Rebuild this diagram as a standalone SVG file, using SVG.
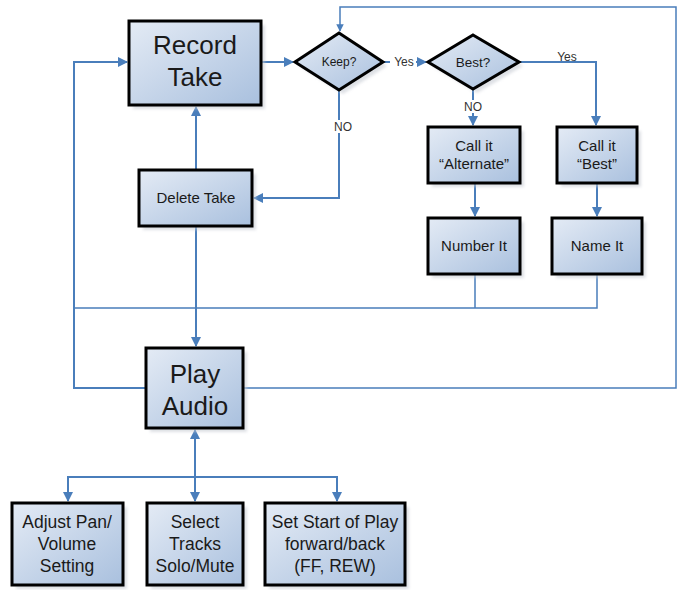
<svg xmlns="http://www.w3.org/2000/svg" width="678" height="590" viewBox="0 0 678 590">
<defs>
<linearGradient id="g" x1="0" y1="0" x2="1" y2="1">
<stop offset="0" stop-color="#e4ebf5"/>
<stop offset="1" stop-color="#a9c0de"/>
</linearGradient>
<marker id="a" viewBox="0 0 10 10" refX="9" refY="5" markerWidth="5" markerHeight="5" orient="auto-start-reverse" markerUnits="strokeWidth">
<path d="M0,0 L10,5 L0,10 z" fill="#4a7ebb"/>
</marker>
<filter id="s" x="-10%" y="-10%" width="130%" height="130%">
<feGaussianBlur stdDeviation="1.5"/>
</filter>
</defs>
<style>
.box{fill:url(#g);stroke:#000;stroke-width:3}
.sh{fill:#c8ccd4;opacity:0.6;filter:url(#s)}
.c{fill:none;stroke:#4a7ebb;stroke-width:2}
.t{font-family:"Liberation Sans",Arial,sans-serif;fill:#1a1a1a;text-anchor:middle}
.lab{font-family:"Liberation Sans",Arial,sans-serif;fill:#333;font-size:12px;text-anchor:middle}
</style>
<rect width="678" height="590" fill="#fff"/>
<g id="connectors">
<path class="c" d="M261,62 H293" marker-end="url(#a)"/>
<path class="c" d="M383,62 H426" marker-end="url(#a)"/>
<path class="c" d="M519,62 H596 V125" marker-end="url(#a)"/>
<path class="c" d="M473,89 V125" marker-end="url(#a)"/>
<path class="c" d="M339,90 V198 H254" marker-end="url(#a)"/>
<path class="c" d="M196,170 V107" marker-end="url(#a)"/>
<path class="c" d="M196,226 V346" marker-end="url(#a)"/>
<path class="c" d="M475,183 V216" marker-end="url(#a)"/>
<path class="c" d="M597,183 V216" marker-end="url(#a)"/>
<path class="c" style="stroke-width:1.5" d="M475,274 V308 M597,274 V308 H74"/>
<path class="c" d="M146,388 H74 V62 H127" marker-end="url(#a)"/>
<path class="c" style="stroke-width:1.5" d="M243,388 H676 V7 H340 V31" marker-end="url(#a)"/>
<path class="c" d="M195,430 V501" marker-start="url(#a)" marker-end="url(#a)"/>
<path class="c" d="M68,501 V477 H337 V501" marker-start="url(#a)" marker-end="url(#a)"/>
<rect x="390" y="55" width="26" height="13" fill="#fff"/>
<text class="lab" x="404" y="66">Yes</text>
<rect x="554" y="50" width="26" height="11" fill="#fff"/>
<text class="lab" x="567" y="61">Yes</text>
<rect x="462" y="100" width="22" height="13" fill="#fff"/>
<text class="lab" x="473" y="111">NO</text>
<rect x="332" y="120" width="22" height="13" fill="#fff"/>
<text class="lab" x="343" y="131">NO</text>
</g>
<g id="record-take">
<rect class="sh" x="133" y="25" width="132" height="84"/>
<rect class="box" x="129" y="21" width="132" height="84"/>
<text class="t" font-size="26" x="195" y="54">Record</text>
<text class="t" font-size="26" x="195" y="86">Take</text>
</g>
<g id="keep">
<polygon class="sh" points="343,37 387,66 343,94 299,66"/>
<polygon class="box" points="339,33 383,62 339,90 295,62"/>
<text class="t" font-size="12" x="339" y="66">Keep?</text>
</g>
<g id="best">
<polygon class="sh" points="477,39 523,66 477,93 432,66"/>
<polygon class="box" points="473,35 519,62 473,89 428,62"/>
<text class="t" font-size="13.5" x="473" y="67">Best?</text>
</g>
<g id="delete-take">
<rect class="sh" x="143" y="174" width="113" height="56"/>
<rect class="box" x="139" y="170" width="113" height="56"/>
<text class="t" font-size="15" x="196" y="203">Delete Take</text>
</g>
<g id="call-alternate">
<rect class="sh" x="432" y="131" width="92" height="56"/>
<rect class="box" x="428" y="127" width="92" height="56"/>
<text class="t" font-size="15" x="474" y="151">Call it</text>
<text class="t" font-size="15" x="474" y="169">“Alternate”</text>
</g>
<g id="call-best">
<rect class="sh" x="561" y="131" width="80" height="56"/>
<rect class="box" x="557" y="127" width="80" height="56"/>
<text class="t" font-size="15" x="597" y="151">Call it</text>
<text class="t" font-size="15" x="597" y="169">“Best”</text>
</g>
<g id="number-it">
<rect class="sh" x="432" y="222" width="92" height="56"/>
<rect class="box" x="428" y="218" width="92" height="56"/>
<text class="t" font-size="15" x="474" y="251">Number It</text>
</g>
<g id="name-it">
<rect class="sh" x="556" y="222" width="90" height="56"/>
<rect class="box" x="552" y="218" width="90" height="56"/>
<text class="t" font-size="15" x="597" y="251">Name It</text>
</g>
<g id="play-audio">
<rect class="sh" x="150" y="352" width="97" height="80"/>
<rect class="box" x="146" y="348" width="97" height="80"/>
<text class="t" font-size="26" x="195" y="383">Play</text>
<text class="t" font-size="26" x="195" y="415">Audio</text>
</g>
<g id="adjust-pan">
<rect class="sh" x="16" y="507" width="111" height="82"/>
<rect class="box" x="12" y="503" width="111" height="82"/>
<text class="t" font-size="17.5" x="67" y="528">Adjust Pan/</text>
<text class="t" font-size="17.5" x="67" y="550">Volume</text>
<text class="t" font-size="17.5" x="67" y="572">Setting</text>
</g>
<g id="select-tracks">
<rect class="sh" x="151" y="507" width="96" height="82"/>
<rect class="box" x="147" y="503" width="96" height="82"/>
<text class="t" font-size="17.5" x="195" y="528">Select</text>
<text class="t" font-size="17.5" x="195" y="550">Tracks</text>
<text class="t" font-size="17.5" x="195" y="572">Solo/Mute</text>
</g>
<g id="set-start">
<rect class="sh" x="269" y="507" width="140" height="82"/>
<rect class="box" x="265" y="503" width="140" height="82"/>
<text class="t" font-size="17.5" x="335" y="528">Set Start of Play</text>
<text class="t" font-size="17.5" x="335" y="550">forward/back</text>
<text class="t" font-size="17.5" x="335" y="572">(FF, REW)</text>
</g>
</svg>
